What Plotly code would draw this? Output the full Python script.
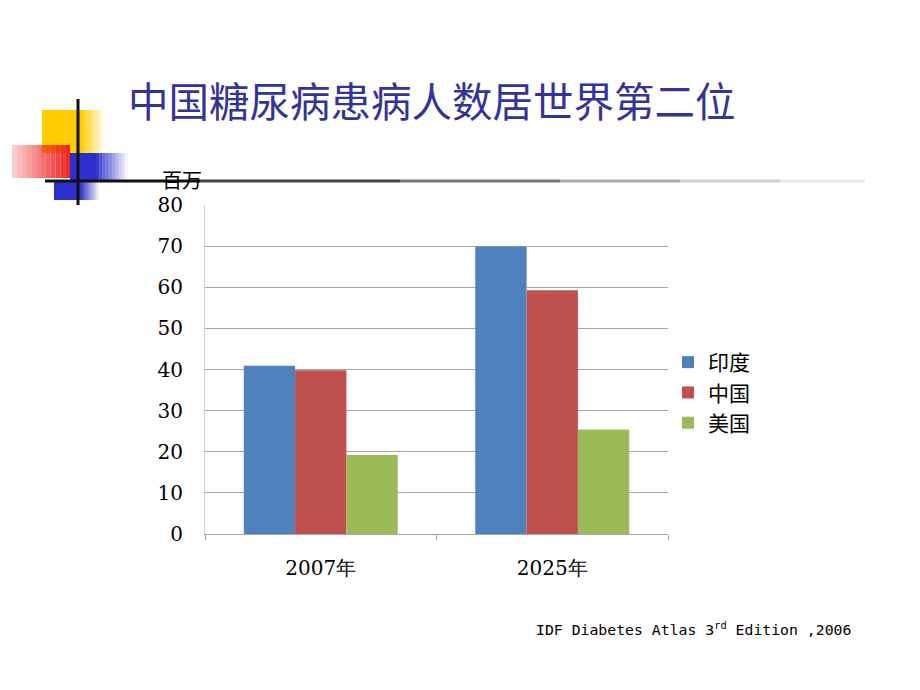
import plotly.graph_objects as go

# ---- data ----
categories = ["2007年", "2025年"]
series_names = ["印度", "中国", "美国"]
india = [40.9, 69.9]
china = [39.8, 59.3]
usa = [19.2, 25.4]
colors = ["#4F81BD", "#C0504D", "#9BBB59"]
y_ticks = [0, 10, 20, 30, 40, 50, 60, 70, 80]

title_text = "中国糖尿病患病人数居世界第二位"
unit_text = "百万"
source_text = "IDF Diabetes Atlas 3<sup>rd</sup> Edition ,2006"

# ---- layout geometry (pixels) ----
W, H = 920, 690
L, R, T, B = 205, 668, 205, 534


def px(x):
    return (x - L) / (R - L)


def py(y):
    return (B - y) / (B - T)


fig = go.Figure()
for name, vals, c in zip(series_names, [india, china, usa], colors):
    fig.add_trace(go.Bar(x=categories, y=vals, name=name, marker_color=c,
                         marker_line_width=0))

shapes = []


def rect(x0, y0, x1, y1, color, opacity=1.0):
    shapes.append(dict(type="rect", xref="paper", yref="paper",
                       x0=px(x0), x1=px(x1), y0=py(y1), y1=py(y0),
                       fillcolor=color, opacity=opacity, line_width=0,
                       layer="above"))


def fade_rect(x0, y0, x1, y1, color, fx0, fx1, n=10):
    if fx0 > x0:
        rect(x0, y0, fx0, y1, color)
    step = (fx1 - fx0) / n
    for i in range(n):
        op = 1 - (i + 0.5) / n
        rect(fx0 + i * step, y0, fx0 + (i + 1) * step, y1, color, op)


# yellow square
fade_rect(42, 110, 105, 153, "#FFCC00", 82, 105)
# red square (lighter to the left)
n = 12
for i in range(n):
    op = 0.2 + 0.8 * (i + 0.5) / n
    rect(12 + i * 58 / n, 145, 12 + (i + 1) * 58 / n, 178, "#F02020", op)
# blue squares
fade_rect(70, 153, 128, 181, "#2E2ECC", 96, 128)
fade_rect(54, 181, 100, 200, "#2E2ECC", 80, 100)
# lines
shapes.append(dict(type="line", xref="paper", yref="paper",
                   x0=px(78), x1=px(78), y0=py(99), y1=py(205),
                   line=dict(color="#111111", width=3), layer="above"))
shapes.append(dict(type="line", xref="paper", yref="paper",
                   x0=px(45), x1=px(200), y0=py(181), y1=py(181),
                   line=dict(color="#111111", width=3), layer="above"))
segs = [(200, 400, "#444444"), (400, 560, "#777777"), (560, 680, "#A8A8A8"),
        (680, 780, "#CFCFCF"), (780, 865, "#E8E8E8")]
for a, b, c in segs:
    shapes.append(dict(type="line", xref="paper", yref="paper",
                       x0=px(a), x1=px(b), y0=py(181), y1=py(181),
                       line=dict(color=c, width=3), layer="above"))

annotations = [
    dict(text=title_text, xref="paper", yref="paper", x=px(432), y=py(99),
         showarrow=False, xanchor="center", yanchor="middle",
         font=dict(family="Noto Sans CJK SC", size=40.5, color="#333399")),
    dict(text=unit_text, xref="paper", yref="paper", x=px(182), y=py(180),
         showarrow=False, xanchor="center", yanchor="middle",
         font=dict(family="Noto Sans CJK SC", size=20, color="#000000")),
    dict(text=source_text, xref="paper", yref="paper", x=px(534), y=py(628),
         showarrow=False, xanchor="left", yanchor="middle",
         font=dict(family="DejaVu Sans Mono", size=14.8, color="#000000")),
]

fig.update_layout(
    width=W, height=H,
    margin=dict(l=L, r=W - R, t=T, b=H - B, pad=0, autoexpand=False),
    paper_bgcolor="white", plot_bgcolor="white",
    barmode="group", bargap=0.335, bargroupgap=0,
    shapes=shapes, annotations=annotations,
    showlegend=True,
    legend=dict(xref="container", yref="container", x=668 / W, y=1 - 342 / H,
                xanchor="left", yanchor="top",
                font=dict(family="Noto Sans CJK SC", size=21, color="#000000"),
                itemwidth=30, tracegroupgap=0, bgcolor="rgba(0,0,0,0)"),
    xaxis=dict(type="category", showgrid=False, showline=True,
               linecolor="#A6A6A6", linewidth=1,
               ticks="outside", tickson="boundaries", ticklen=5,
               tickcolor="#A6A6A6", ticklabelstandoff=16,
               tickfont=dict(family="DejaVu Serif", size=20, color="#000000")),
    yaxis=dict(range=[0, 80], tickvals=y_ticks, showgrid=True,
               gridcolor="#A6A6A6", gridwidth=1, zeroline=False,
               showline=True, linecolor="#D0D0D0", linewidth=1,
               ticks="", ticklabelstandoff=17,
               tickfont=dict(family="DejaVu Serif", size=20, color="#000000")),
)

fig.write_html("out.html")
